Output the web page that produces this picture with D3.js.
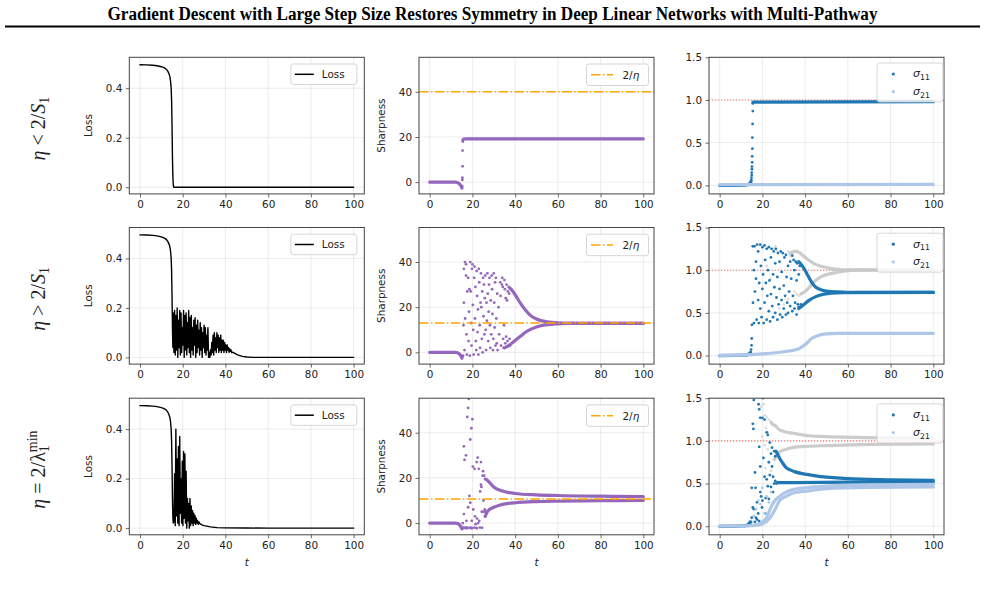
<!DOCTYPE html>
<html>
<head>
<meta charset="utf-8">
<script src="https://cdn.jsdelivr.net/npm/d3@7"></script>
<style>
  body { margin: 0; background: #fff; }
  svg { display: block; }
</style>
</head>
<body>
<svg id="fig" width="985" height="594"></svg>
<script>
// ---------- data ----------
const title = "Gradient Descent with Large Step Size Restores Symmetry in Deep Linear Networks with Multi-Pathway";
const tTicks = [0, 20, 40, 60, 80, 100];
const lossTicks = [0, 0.2, 0.4];
const sharpTicks = [0, 20, 40];
const sigmaTicks = [0, 0.5, 1.0, 1.5];
const twoOverEta = [40, 13, 10.7];

// loss, row 1
const loss1 = [[0,.495],[3,.4945],[6,.493],[8,.491],[10,.487],[11,.484],[12,.479],[12.5,.475],[13,.469],[13.5,.46],[14,.447],[14.3,.43],[14.6,.40],[14.8,.35],[15,.25],[15.2,.12],[15.4,.04],[15.6,.008],[15.8,0],[100,0]];
// loss, row 2 (head, oscillation sampled every oscStep from oscStart, tail)
const loss2Head = [[0,.495],[3,.4945],[6,.493],[8,.491],[10,.487],[11,.484],[12,.479],[12.5,.475],[13,.469],[13.5,.46],[14,.447],[14.3,.43],[14.6,.40],[14.8,.35],[15,.25],[15.2,.12],[15.4,.04]];
const loss2Start = 15.6, loss2Step = 0.3;
const loss2Osc = [
  .18,.02,.19,.01,.17,.03,.20,.00,.15,.04,.19,.01,.18,.02,.12,.05,.19,.00,.17,.03,
  .18,.01,.14,.04,.19,.02,.16,.00,.17,.03,.12,.01,.15,.05,.16,.00,.13,.02,.15,.04,
  .11,.01,.14,.03,.12,.00,.10,.04,.13,.02,.12,.01,.09,.03,.12,.00,
  .02,.00,.03,.01,
  .06,.02,.09,.01,.10,.03,.08,.02,.10,.04,.09,.02,.08,.03,.09,.02,.07,.03,.07,.02,
  .06,.03,.05,.02,.05,.03,.04,.02,.035,.025,.03,.02];
const loss2Tail = [[43.5,.021],[44,.018],[45,.013],[46,.009],[48,.004],[50,.0015],[53,.0003],[56,0],[100,0]];
// loss, row 3
const loss3Head = [[0,.495],[3,.4945],[6,.493],[8,.491],[10,.487],[11,.484],[12,.479],[12.5,.475],[13,.469],[13.5,.46],[14,.447],[14.3,.43],[14.6,.40],[14.8,.35],[15,.25],[15.2,.12],[15.4,.04],[15.6,.02]];
const loss3Start = 15.9, loss3Step = 0.3;
const loss3Osc = [
  .03,.22,.01,.40,.05,.28,.02,.33,.01,.37,.06,.20,.02,.27,.01,.31,.04,.30,.02,.23,
  .00,.12,.03,.10,.00,.12,.01,.09,.02,.07,.01,.06,.02,.05,.015,.04,.02,.03,.015,.025];
const loss3Tail = [[28,.018],[29,.013],[30,.01],[33,.005],[36,.002],[40,.001],[50,.0003],[60,0],[100,0]];

// sharpness, row 1
const sharp1Base = [[0,0],[12,0],[13,-0.2],[14,-0.8],[14.6,-1.6],[15.1,-2.6]];
const sharp1Dots = [[15.2,-1.8],[15.3,1],[15.3,2],[15.4,7],[15.4,14],[15.5,18]];
const sharp1Flat = [[15.6,18.8],[16,19.1],[17,19.2],[100,19.2]];
// sharpness, row 2
const sharp2Base = [[0,0],[12,0],[13,-0.2],[14,-0.8],[14.6,-1.6],[15.1,-2.6]];
const sharp2Dots = [
  [15.3,-2],[15.6,-1.5],[15.8,12],[16,37],[16,22],[16.3,1],[16.5,40],[16.6,15],[17,39],[17,34],[17.2,8],[17.4,-1],[17.6,27],
  [18,33],[18.2,5],[18.4,18],[18.6,28],[18.8,-1.5],[19,40],[19.2,27],[19.4,13],[19.6,3],[19.8,37],[20,39],[20.2,21],[20.4,10],
  [20.6,-1],[20.8,33],[21,38],[21.2,15],[21.4,29],[21.6,5],[21.8,1],[22,36],[22.2,25],[22.4,9],[22.6,19],[22.8,-1],[23,37],
  [23.2,31],[23.4,12],[23.6,2],[23.8,22],[24,35],[24.2,20],[24.4,6],[24.6,27],[24.8,0],[25,33],[25.2,16],[25.4,30],[25.6,8],
  [25.8,24],[26,34],[26.2,10],[26.4,1],[26.6,22],[26.8,14],[27,35],[27.2,26],[27.4,5],[27.6,18],[27.8,30],[28,33],[28.2,12],
  [28.4,2],[28.6,23],[28.8,8],[29,34],[29.2,28],[29.4,17],[29.6,1],[29.8,6],[30,35],[30.2,22],[30.4,11],[30.6,31],[30.8,3],
  [31,33],[31.2,15],[31.4,4],[31.6,26],[31.8,1],[32.2,20],[32.5,8],[33,31],[33.2,25],[33.4,3],[33.8,30],[34,33],[34.2,29],
  [34.4,6],[34.6,2],[34.8,12],[35,32],[35.2,28],[35.4,4],[35.6,24],[35.8,7],[36,30],[36.2,23],[36.4,5],[36.6,27],[37,29],
  [37.2,26],[37.4,6],[37.6,3]];
const sharp2Upper = [[37.5,28.5],[39,27],[41,24],[43,21],[45,18.5],[47,16.5],[50,14.8],[55,13.5],[60,13.1],[70,12.9],[100,12.8]];
const sharp2Lower = [[35,2],[37,3],[39,4.5],[41,6],[43,7.5],[45,9],[48,10.5],[52,11.8],[58,12.5],[65,12.8],[100,12.8]];
// sharpness, row 3
const sharp3Base = [[0,0],[12,0],[13,-0.2],[14,-0.8],[14.6,-1.6],[15.1,-2.6]];
const sharp3Dots = [
  [15.5,-2],[16,-2.2],[16.5,-2],[17,-2.3],[17.5,-2],[18,-2.2],[19,-2],[19.5,-2.3],[20,-2.2],[21,-2],[22,-2.3],[23.5,-2],[24.5,-2.1],
  [15.5,0],[16,4],[16,34],[16.3,28],[17,30],[17.2,1],[17.6,47],[18,51],[18.3,55],[18,7],[18.6,12],[19,37],[19,9],[19.5,42],
  [19.7,1],[20,46],[20.2,25],[20.4,6],[21,24],[21.2,3],[21.5,-0.5],[22,27],[22.2,2],[22.5,29],[22.7,0],[23,24],[23.2,1],
  [23.6,14],[24,27],[24,17],[24.2,16],[24.4,5],[24.8,21],[25,23],[25.2,10],[25.5,21],[25.5,5],[25.8,6],[26,3],[26.3,5]];
const sharp3Upper = [[26,19.5],[27,19],[28,18],[30,16],[33,14.5],[36,13.7],[40,13.1],[50,12.5],[60,12.2],[80,11.9],[100,11.7]];
const sharp3Lower = [[26,3],[27,5],[28,6],[30,7],[33,8],[37,8.7],[40,9],[50,9.5],[60,9.7],[80,9.9],[100,10]];

// singular values, row 1
const sig1Base = [[0,0],[12,0.003],[13,0.008],[14,0.02],[14.6,0.04]];
const sig1Dots = [[14.8,0.06],[14.9,0.09],[15,0.12],[15,0.15],[15.1,0.19],[15.1,0.22],[15.2,0.27],[15.2,0.34],[15.3,0.43],[15.3,0.56],[15.4,0.72],[15.5,0.87],[15.5,0.96]];
const sig1Flat = [[15.6,0.975],[100,0.98]];
const sig1Light = [[0,0.008],[100,0.012]];
// singular values, row 2
const sig2Base = [[0,0],[12,0.004],[13,0.01],[14,0.025],[14.5,0.04]];
const sig2Dots = [
  [14.7,0.07],[14.9,0.12],[15,0.2],[15.1,0.36],[15.5,1.28],[15.6,0.62],[16,0.38],[16,1.0],[16.3,1.28],[16.5,0.75],[17,0.9],
  [17,1.1],[17.3,0.42],[17.5,1.3],[18,0.65],[18,1.22],[18.3,0.38],[18.5,0.85],[19,1.3],[19,0.55],[19.3,1.05],[19.6,0.45],
  [20,0.78],[20,1.27],[20.3,0.95],[20.6,0.38],[21,1.29],[21,0.62],[21.3,1.12],[21.6,0.85],[22,0.42],[22,1.25],[22.3,0.7],
  [22.6,1.0],[23,0.52],[23,1.27],[23.3,0.88],[23.6,0.4],[24,1.15],[24,0.72],[24.3,1.25],[24.6,0.58],[25,0.95],[25,0.45],
  [25.3,1.22],[25.6,0.8],[26,0.5],[26,1.08],[26.3,1.25],[26.6,0.68],[27,0.92],[27,0.42],[27.3,1.2],[27.6,0.6],[28,1.1],
  [28,0.78],[28.3,0.48],[28.6,1.22],[29,0.65],[29,0.98],[29.3,0.45],[29.6,1.2],[30,0.82],[30,0.55],[30.3,1.15],[30.6,0.7],
  [31,0.48],[31,1.18],[31.3,0.92],[31.6,0.62],[32,1.05],[32,0.5],[32.5,0.75],[33,1.1],[33,0.58],[33.5,0.9],[34,1.17],
  [34,0.52],[34.3,0.7],[34.6,1.12],[35,0.55],[35,1.0],[35.3,0.62],[35.6,1.1],[36,0.48],[36,0.88],[36.3,1.08],[36.6,0.6],
  [37,0.95],[37,0.57],[37.5,1.05],[38,0.6]];
const sig2Upper = [[37,1.1],[39,1.04],[41,0.95],[43,0.86],[45,0.8],[47,0.775],[50,0.755],[55,0.745],[60,0.74],[100,0.74]];
const sig2Lower = [[37,0.55],[39,0.59],[42,0.65],[45,0.69],[48,0.715],[52,0.73],[58,0.738],[100,0.74]];
const sig2Light = [[0,0.003],[10,0.005],[15,0.01],[20,0.02],[25,0.03],[30,0.045],[34,0.06],[37,0.08],[39,0.11],[41,0.15],[43,0.2],[45,0.225],[48,0.248],[50,0.255],[55,0.26],[100,0.26]];
const gray2Upper = [[33,1.2],[35,1.22],[37,1.21],[39,1.17],[41,1.13],[44,1.08],[47,1.05],[50,1.03],[55,1.01],[60,1.003],[100,1.0]];
const gray2Lower = [[38,0.72],[40,0.75],[42,0.8],[44,0.86],[46,0.9],[48,0.93],[52,0.96],[58,0.99],[65,1.0],[100,1.0]];
const gray2Dots = [[25,1.25],[27,1.22],[29,1.2],[31,1.18],[32,1.22],[33,1.17],[34,1.2],[36,1.23],[35,0.75],[36,0.72],[37,0.7],[32,0.66],[30,0.6],[28,0.55],[26,1.28],[24,0.9],[22,1.05]];
// singular values, row 3
const sig3Base = [[0,0],[11,0.004],[12.5,0.01],[13.5,0.025],[14.2,0.05]];
const sig3Dots = [
  [14.4,0.02],[14.7,0.05],[15,0.1],[15,0.45],[15.5,0.22],[15.5,1.2],[15.8,1.14],[16,1.48],[16,0.2],[16.5,0.63],[16.5,0.05],
  [16.8,0.45],[17,0.1],[17.5,0.28],[17.5,0.08],[18,0.15],[18.2,1.43],[18.5,1.37],[18.5,0.93],[18.5,0.06],[19,1.27],[19,0.7],
  [19,0.4],[19.4,0.35],[19.8,0.22],[20,0.3],[20,1.27],[20.3,1.5],[20.5,0.8],[21,1.25],[21,0.58],[21.3,0.15],[21.5,0.33],
  [22,1.1],[22,0.55],[22.5,0.47],[22.5,1.07],[23,0.75],[23,0.32],[23.5,0.98],[23.5,0.6],[24,0.85],[24,0.46],[24.5,0.92],
  [24.5,0.7],[25,0.58],[25,0.4],[25.5,0.88],[25.5,0.5],[26,0.82],[26,0.53],[26.5,0.5]];
const sig3Upper = [[26.3,0.88],[27,0.85],[28,0.8],[29.5,0.74],[31,0.69],[33,0.66],[35,0.64],[40,0.61],[45,0.59],[50,0.575],[60,0.557],[80,0.545],[100,0.537]];
const sig3Lower = [[27,0.51],[35,0.512],[60,0.517],[100,0.52]];
const sig3LightBase = [[0,0.003],[10,0.004],[15,0.008],[18,0.015]];
const sig3LightUpper = [[18,0.02],[20,0.05],[22,0.1],[23.6,0.2],[25.5,0.29],[28,0.35],[31,0.4],[34.4,0.43],[40,0.45],[50,0.47],[70,0.485],[100,0.49]];
const sig3LightLower = [[18,0.015],[20,0.03],[22,0.06],[23.6,0.1],[26,0.2],[28,0.3],[31,0.35],[34.4,0.39],[40,0.41],[50,0.44],[70,0.455],[100,0.46]];
const sig3LightDots = [[16,0.12],[17,0.2],[18,0.3],[19,0.26],[20,0.45],[21,0.15],[22,0.35],[23,0.28],[24,0.4]];
const gray3Upper = [[24,1.22],[25,1.19],[26,1.18],[27.4,1.14],[30,1.11],[34.4,1.09],[42,1.06],[50,1.05],[65,1.04],[100,1.03]];
const gray3Lower = [[25.5,0.78],[26.5,0.82],[28,0.87],[31,0.9],[34.4,0.925],[40,0.935],[50,0.945],[70,0.958],[100,0.965]];
const gray3Dots = [[19.5,1.4],[20.5,1.43],[21,1.3],[22,1.28],[23,1.25],[21.5,1.15],[22.5,1.1],[20,1.05],[21,0.95],[22.5,0.9],[24,0.65],[23,0.6],[21.5,0.68],[24.5,1.2]];

// ---------- styles ----------
const PURPLE = "#9467bd", BLUE = "#1f77b4", LBLUE = "#aec7e8", GRAY = "#c7c7c7", ORANGE = "#ffa500";
const FONT = "DejaVu Sans";
const colX = [129.3, 419, 709], rowY = [57.3, 227.5, 398.2];
const PW = 235, PH = 136.6;

const svg = d3.select("#fig");
svg.append("rect").attr("width", 985).attr("height", 594).attr("fill", "#fff");

// title + rule
svg.append("text")
  .attr("x", 492.5).attr("y", 19.5)
  .attr("text-anchor", "middle")
  .attr("font-family", "Liberation Serif")
  .attr("font-weight", "bold")
  .attr("font-size", 18)
  .attr("textLength", 770).attr("lengthAdjust", "spacingAndGlyphs")
  .text(title);
svg.append("line").attr("x1", 5).attr("x2", 980).attr("y1", 26.5).attr("y2", 26.5)
  .attr("stroke", "#000").attr("stroke-width", 2);

function makePanel(r, c, yDom, yTicks, fmt, ylabel) {
  const x = d3.scaleLinear().domain([-5, 105]).range([0, PW]);
  const y = d3.scaleLinear().domain(yDom).range([PH, 0]);
  const g = svg.append("g").attr("transform", `translate(${colX[c]},${rowY[r]})`);
  const id = `clip${r}${c}`;
  g.append("clipPath").attr("id", id).append("rect").attr("width", PW).attr("height", PH);

  // grid
  g.append("g").selectAll("line").data(tTicks).join("line")
    .attr("x1", d => x(d)).attr("x2", d => x(d)).attr("y1", 0).attr("y2", PH)
    .attr("stroke", "#b0b0b0").attr("stroke-opacity", 0.3).attr("stroke-width", 0.8);
  g.append("g").selectAll("line").data(yTicks).join("line")
    .attr("y1", d => y(d)).attr("y2", d => y(d)).attr("x1", 0).attr("x2", PW)
    .attr("stroke", "#b0b0b0").attr("stroke-opacity", 0.3).attr("stroke-width", 0.8);

  const xa = g.append("g").attr("transform", `translate(0,${PH})`)
    .call(d3.axisBottom(x).tickValues(tTicks).tickSize(3.5).tickPadding(3.5).tickFormat(d3.format("d")));
  const ya = g.append("g")
    .call(d3.axisLeft(y).tickValues(yTicks).tickSize(3.5).tickPadding(3.5).tickFormat(fmt));
  [xa, ya].forEach(a => {
    a.attr("font-family", FONT).attr("font-size", 10.4);
    a.select(".domain").remove();
    a.selectAll("line").attr("stroke", "#444").attr("stroke-width", 0.8);
    a.selectAll("text").attr("fill", "#222");
  });

  if (ylabel) {
    g.append("text")
      .attr("transform", `translate(${ylabel.dx},${PH / 2}) rotate(-90)`)
      .attr("text-anchor", "middle")
      .attr("font-family", FONT).attr("font-size", 10.4).attr("fill", "#222")
      .text(ylabel.text);
  }
  if (r === 2) {
    g.append("text").attr("x", PW / 2).attr("y", PH + 31.5)
      .attr("text-anchor", "middle").attr("font-family", FONT).attr("font-style", "italic")
      .attr("font-size", 10.4).attr("fill", "#222").text("t");
  }
  const plot = g.append("g").attr("clip-path", `url(#${id})`);
  return { g, plot, x, y };
}

function frame(p) {
  p.g.append("rect").attr("width", PW).attr("height", PH)
    .attr("fill", "none").attr("stroke", "#444").attr("stroke-width", 1);
}

function drawLine(p, data, color, width, curve) {
  p.plot.append("path").datum(data)
    .attr("fill", "none").attr("stroke", color).attr("stroke-width", width)
    .attr("stroke-linecap", "round").attr("stroke-linejoin", "round")
    .attr("d", d3.line().x(d => p.x(d[0])).y(d => p.y(d[1])).curve(curve || d3.curveLinear));
}
function drawBranch(p, data, color, opacity) {
  p.plot.append("path").datum(data)
    .attr("fill", "none").attr("stroke", color).attr("stroke-width", 3.2)
    .attr("stroke-opacity", opacity || 1)
    .attr("stroke-linecap", "round")
    .attr("d", d3.line().x(d => p.x(d[0])).y(d => p.y(d[1])).curve(d3.curveMonotoneX));
}
function drawDots(p, data, color, opacity) {
  p.plot.append("g").selectAll("circle").data(data).join("circle")
    .attr("cx", d => p.x(d[0])).attr("cy", d => p.y(d[1])).attr("r", 1.4)
    .attr("fill", color).attr("fill-opacity", opacity || 1);
}
function legendBox(p, x0, y0, w, h) {
  p.g.append("rect").attr("x", x0).attr("y", y0).attr("width", w).attr("height", h)
    .attr("rx", 2.5).attr("fill", "#fff").attr("fill-opacity", 0.8)
    .attr("stroke", "#ccc").attr("stroke-width", 0.8);
}

function oscSeries(head, start, step, vals, tail) {
  return head.concat(vals.map((v, i) => [start + i * step, v]), tail);
}

// ---------- loss panels ----------
const lossSeries = [
  loss1,
  oscSeries(loss2Head, loss2Start, loss2Step, loss2Osc, loss2Tail),
  oscSeries(loss3Head, loss3Start, loss3Step, loss3Osc, loss3Tail)
];
lossSeries.forEach((s, r) => {
  const p = makePanel(r, 0, [-0.027, 0.525], lossTicks, d3.format(".1f"), { text: "Loss", dx: -37 });
  drawLine(p, s, "#000", 1.4);
  frame(p);
  legendBox(p, PW - 73.5, 6.7, 66, 20.5);
  p.g.append("line").attr("x1", PW - 69.5).attr("x2", PW - 50.5).attr("y1", 17).attr("y2", 17)
    .attr("stroke", "#000").attr("stroke-width", 1.5);
  p.g.append("text").attr("x", PW - 42.5).attr("y", 20.8)
    .attr("font-family", FONT).attr("font-size", 10.4).attr("fill", "#222").text("Loss");
});

// ---------- sharpness panels ----------
const sharpSets = [
  { base: sharp1Base, dots: sharp1Dots, branches: [sharp1Flat] },
  { base: sharp2Base, dots: sharp2Dots, branches: [sharp2Upper, sharp2Lower] },
  { base: sharp3Base, dots: sharp3Dots, branches: [sharp3Upper, sharp3Lower] }
];
sharpSets.forEach((s, r) => {
  const p = makePanel(r, 1, [-5.2, 55.3], sharpTicks, d3.format("d"), { text: "Sharpness", dx: -34 });
  drawBranch(p, s.base, PURPLE);
  s.branches.forEach(b => drawBranch(p, b, PURPLE));
  drawDots(p, s.dots, PURPLE);
  p.plot.append("line").attr("x1", 0).attr("x2", PW)
    .attr("y1", p.y(twoOverEta[r])).attr("y2", p.y(twoOverEta[r]))
    .attr("stroke", ORANGE).attr("stroke-width", 1.5).attr("stroke-dasharray", "9.6,2.4,1.5,2.4");
  frame(p);
  legendBox(p, PW - 67.5, 6.7, 62, 21.5);
  p.g.append("line").attr("x1", PW - 63).attr("x2", PW - 41).attr("y1", 17.5).attr("y2", 17.5)
    .attr("stroke", ORANGE).attr("stroke-width", 1.5).attr("stroke-dasharray", "9.6,2.4,1.5,2.4");
  const t = p.g.append("text").attr("x", PW - 31.5).attr("y", 21.5)
    .attr("font-family", FONT).attr("font-size", 10.4).attr("fill", "#222");
  t.append("tspan").text("2/");
  t.append("tspan").attr("font-style", "italic").text("η");
});

// ---------- singular value panels ----------
const sigSets = [
  { grayB: [], grayD: [], base: sig1Base, dots: sig1Dots, branches: [sig1Flat], light: [sig1Light], lightD: [] },
  { grayB: [gray2Upper, gray2Lower], grayD: gray2Dots, base: sig2Base, dots: sig2Dots, branches: [sig2Upper, sig2Lower], light: [sig2Light], lightD: [] },
  { grayB: [gray3Upper, gray3Lower], grayD: gray3Dots, base: sig3Base, dots: sig3Dots, branches: [sig3Upper, sig3Lower], light: [sig3LightBase, sig3LightUpper, sig3LightLower], lightD: sig3LightDots }
];
sigSets.forEach((s, r) => {
  const p = makePanel(r, 2, [-0.1, 1.5], sigmaTicks, d3.format(".1f"), null);
  p.plot.append("line").attr("x1", 0).attr("x2", PW).attr("y1", p.y(1)).attr("y2", p.y(1))
    .attr("stroke", "red").attr("stroke-opacity", 0.55).attr("stroke-width", 1.1)
    .attr("stroke-dasharray", "1.1,1.9");
  s.grayB.forEach(b => drawBranch(p, b, GRAY, 0.9));
  drawDots(p, s.grayD, GRAY, 0.6);
  drawBranch(p, s.base, BLUE);
  s.branches.forEach(b => drawBranch(p, b, BLUE));
  drawDots(p, s.dots, BLUE);
  s.light.forEach(b => drawBranch(p, b, LBLUE));
  drawDots(p, s.lightD, LBLUE);
  frame(p);
  legendBox(p, PW - 67, 5.7, 66, 39);
  [["11", BLUE, 16.7], ["21", LBLUE, 34.4]].forEach(([sub, col, yy]) => {
    p.g.append("circle").attr("cx", PW - 50.7).attr("cy", yy).attr("r", 1.6).attr("fill", col);
    const t = p.g.append("text").attr("x", PW - 31).attr("y", yy + 3.5)
      .attr("font-family", FONT).attr("font-size", 11).attr("fill", "#222");
    t.append("tspan").attr("font-style", "italic").text("σ");
    t.append("tspan").attr("font-size", 7.8).attr("dy", 2.5).text(sub);
  });
});

// ---------- row labels ----------
const rowLabelX = 45;
rowY.forEach((ry, r) => {
  const t = svg.append("text")
    .attr("transform", `translate(${rowLabelX},${ry + PH / 2 + 3}) rotate(-90)`)
    .attr("text-anchor", "middle")
    .attr("font-family", "Liberation Serif").attr("font-size", 20).attr("fill", "#222");
  t.append("tspan").attr("font-style", "italic").text("η");
  if (r === 0 || r === 1) {
    t.append("tspan").text(r === 0 ? " < 2/" : " > 2/");
    t.append("tspan").attr("font-style", "italic").text("S");
    t.append("tspan").attr("font-size", 14).attr("dy", 4).text("1");
  } else {
    t.append("tspan").text(" = 2/λ");
    t.append("tspan").attr("font-size", 14).attr("dy", 4).text("1");
    t.append("tspan").attr("font-size", 14).attr("dx", -7).attr("dy", -12).text("min");
  }
});
</script>
</body>
</html>
